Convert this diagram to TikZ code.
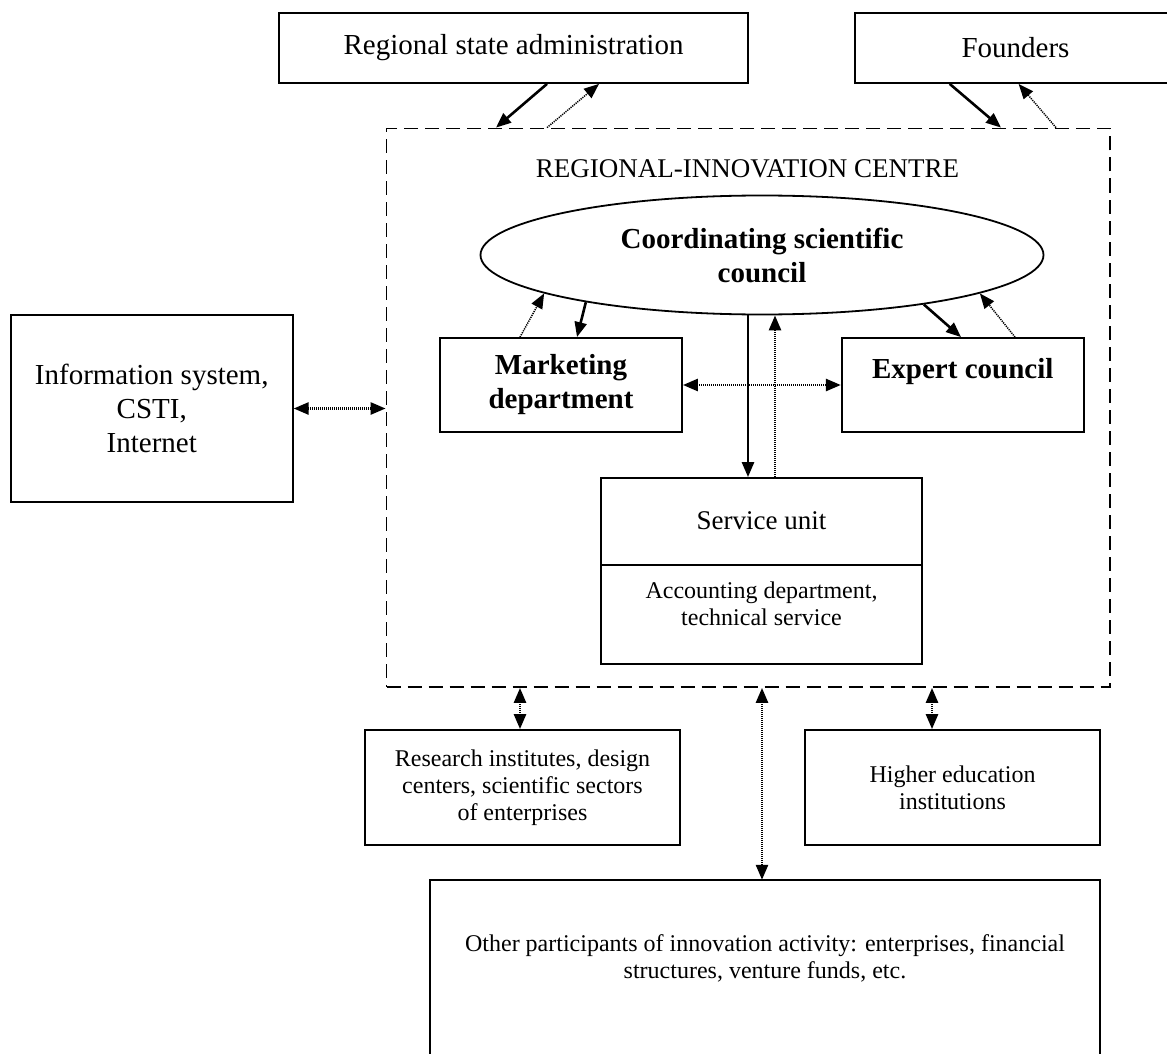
\documentclass[tikz,border=0pt]{standalone}
\usepackage{fontspec}
\setmainfont{Liberation Serif}
\usetikzlibrary{shapes.geometric,arrows.meta}

\begin{document}
\begin{tikzpicture}[x=1pt, y=-1pt, >={Triangle[length=15pt,width=12pt]},
    box/.style={draw, line width=1.8pt, inner sep=0pt, align=center, font=\fontsize{29}{34}\selectfont},
    boldbox/.style={box, font=\bfseries\fontsize{29}{34}\selectfont},
    smalltext/.style={align=center, inner sep=0pt, font=\fontsize{24}{27}\selectfont},
    solidarrow/.style={->, line width=2.6pt},
    dotarrow/.style={->, line width=1.5pt, dash pattern=on 1.2pt off 1pt},
    dotdouble/.style={<->, line width=2.6pt, dash pattern=on 1.2pt off 0.8pt}]
    \useasboundingbox (0,0) rectangle (1167,1054);

    % Enti esterni in alto
    \node[box, minimum width=469pt, minimum height=70pt] (reg) at (513.5,48) {Regional state administration};
    \node[box, minimum width=321pt, minimum height=70pt] (fnd) at (1015.5,48) {Founders};

    % Il centro (riquadro tratteggiato)
    \node[draw, line width=1.8pt, dash pattern=on 14pt off 7pt, inner sep=0pt,
          minimum width=723.5pt, minimum height=558.5pt] (ric) at (748.25,407.75) {};
    \node[font=\fontsize{27}{32}\selectfont] (tit) at (747.5,169) {REGIONAL-INNOVATION CENTRE};

    % Consiglio e dipartimenti
    \node[ellipse, draw, line width=1.8pt, inner sep=0pt, align=center, minimum width=563pt, minimum height=119pt,
          font=\bfseries\fontsize{29}{34}\selectfont] (csc) at (762,255) {Coordinating scientific\\council};
    \node[boldbox, minimum width=242pt, minimum height=94pt] (mkt) at (561,385) {Marketing\\department};
    \node[boldbox, minimum width=242pt, minimum height=94pt] (exp) at (962.75,385) {Expert council\\\mbox{}};

    % Sistema informativo a sinistra
    \node[box, minimum width=282pt, minimum height=187pt] (inf) at (151.75,408.5) {Information system,\\CSTI,\\Internet};

    % Unita di servizio con divisione
    \node[box, minimum width=321pt, minimum height=186pt] (srv) at (761.5,571) {};
    \node[font=\fontsize{27}{32}\selectfont] (srvt) at (761.5,521) {Service unit};
    \draw[line width=1.8pt] (srv.west |- 0,565) -- (srv.east |- 0,565);
    \node[smalltext] (acc) at (761.5,604) {Accounting department,\\technical service};

    % Partecipanti esterni in basso
    \node[box, smalltext, minimum width=315pt, minimum height=115pt] (res) at (522.5,787.5) {Research institutes, design\\centers, scientific sectors\\of enterprises};
    \node[box, smalltext, minimum width=295pt, minimum height=115pt] (hed) at (952.5,787.5) {Higher education\\institutions};
    \node[minimum width=670pt, minimum height=180pt, inner sep=0pt] (oth) at (765,970) {};
    \draw[line width=1.8pt] (oth.south west) -- (oth.north west) -- (oth.north east) -- (oth.south east);
    \node[smalltext] (otht) at (765,958) {Other participants of innovation activity: enterprises, financial\\structures, venture funds, etc.};

    % Frecce in alto
    \draw[solidarrow] (547,0 |- reg.south) -- (496,0 |- ric.north);
    \draw[dotarrow] (547,0 |- ric.north) -- (599,0 |- reg.south);
    \draw[solidarrow] (949.7,0 |- fnd.south) -- (1001,0 |- ric.north);
    \draw[dotarrow] (1056,0 |- ric.north) -- (1018.6,0 |- fnd.south);

    % Frecce tra consiglio e dipartimenti
    \draw[dotarrow] (520,0 |- mkt.north) -- (csc.190);
    \draw[solidarrow] (csc.195) -- (577,0 |- mkt.north);
    \draw[solidarrow] (csc.343) -- (961,0 |- exp.north);
    \draw[dotarrow] (1015,0 |- exp.north) -- (csc.350);
    \draw[dotdouble] (mkt.east) -- (exp.west);
    \draw[solidarrow] (748,0 |- csc.south) -- (748,0 |- srv.north);
    \draw[dotdouble, ->] (775,0 |- srv.north) -- (775,0 |- csc.south);

    % Collegamenti verso l'esterno
    \draw[dotdouble] (inf.east) -- (inf.east -| ric.west);
    \draw[dotdouble] (520,0 |- ric.south) -- (520,0 |- res.north);
    \draw[dotdouble] (932,0 |- ric.south) -- (932,0 |- hed.north);
    \draw[dotdouble] (762,0 |- ric.south) -- (762,0 |- oth.north);
\end{tikzpicture}
\end{document}
